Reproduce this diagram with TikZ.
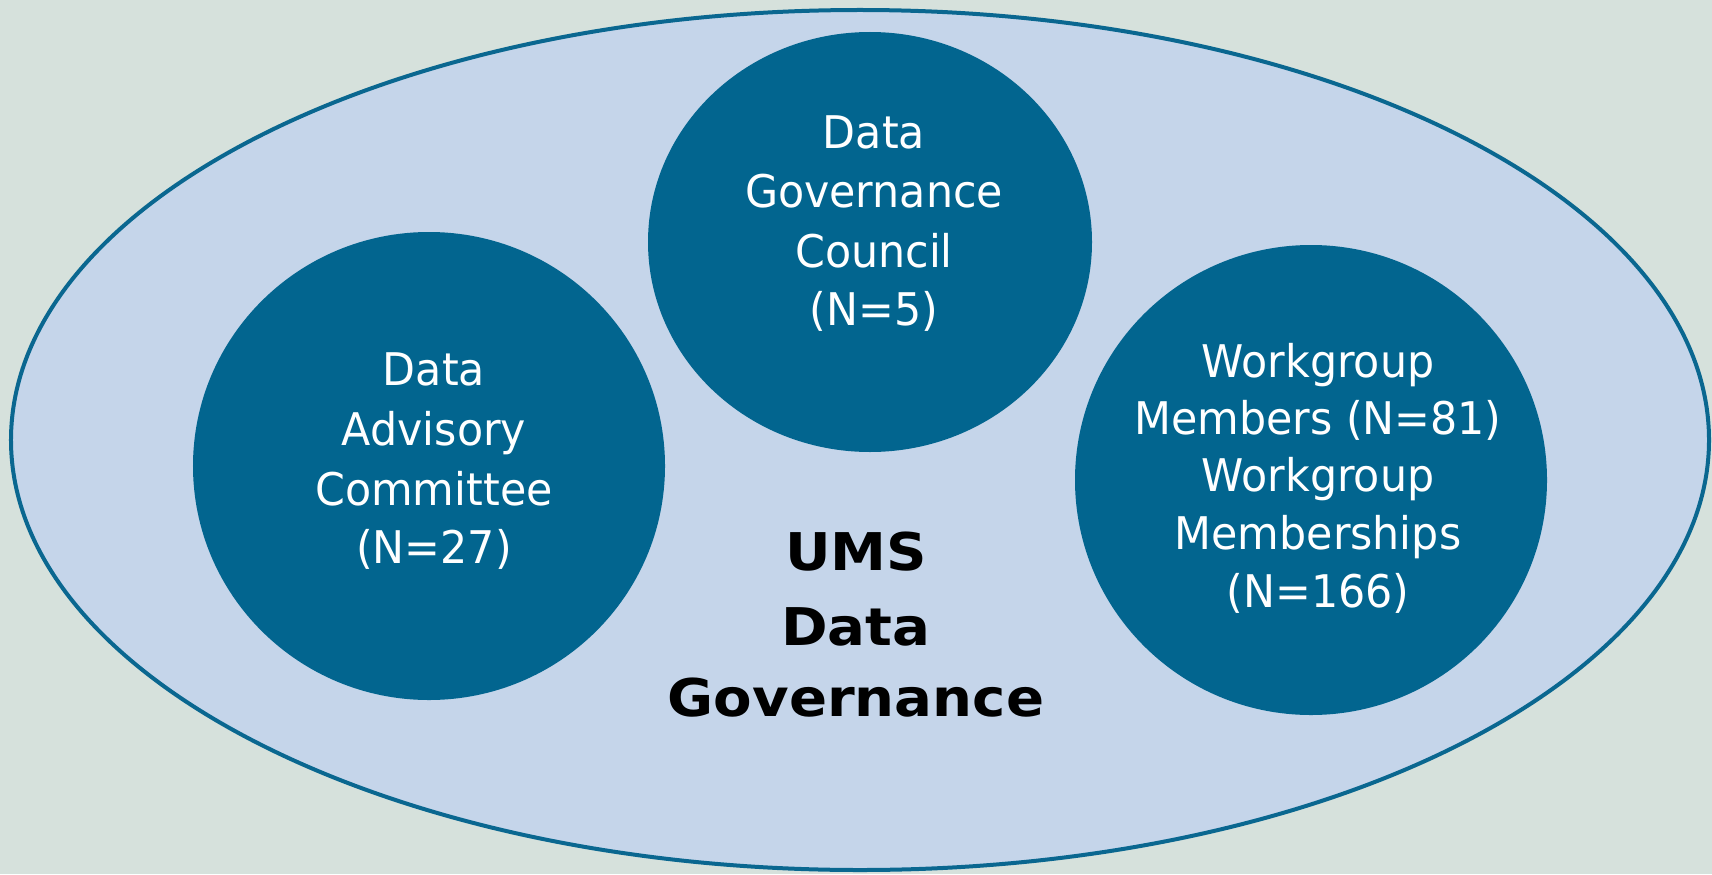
\documentclass[tikz,border=0pt]{standalone}
\usepackage{fontspec}
\usetikzlibrary{shapes.geometric}
\newfontfamily\lblfont[FakeStretch=0.95]{DejaVu Sans}
\newfontfamily\ctrfont[FakeStretch=1.08]{DejaVu Sans}
\definecolor{bgc}{RGB}{214,225,220}
\definecolor{lightc}{RGB}{197,213,234}
\definecolor{circc}{RGB}{2,101,143}
\definecolor{edgec}{RGB}{10,103,144}
\tikzset{
  outerov/.style={ellipse, fill=lightc, draw=edgec, line width=4bp, inner sep=0pt,
    minimum width=1698bp, minimum height=860bp},
  groupov/.style={ellipse, fill=circc, inner sep=0pt},
  wlbl/.style={anchor=base, inner sep=0pt, text=white, font=\lblfont\fontsize{45bp}{54bp}\selectfont},
  clbl/.style={anchor=base, inner sep=0pt, text=black, font=\ctrfont\bfseries\fontsize{52bp}{62bp}\selectfont}
}
\begin{document}
\begin{tikzpicture}[x=1bp,y=-1bp]
\fill[bgc] (0,0) rectangle (1712,874);
\useasboundingbox (0,0) rectangle (1712,874);
\node[outerov] (outer) at (860,440) {};
\node[groupov, minimum width=444bp, minimum height=420bp] (dgc) at (870,242) {};
\node[groupov, minimum width=472bp, minimum height=468bp] (dac) at (429,466) {};
\node[groupov, minimum width=472bp, minimum height=470bp] (wg) at (1311,480) {};
% top circle
\node[wlbl] (t1) at (874,148) {Data};
\node[wlbl] (t2) at (874,207) {Governance};
\node[wlbl] (t3) at (874,267) {Council};
\node[wlbl] (t4) at (874,325) {(N=5)};
% left circle
\node[wlbl] (l1) at (434,385) {Data};
\node[wlbl] (l2) at (434,445) {Advisory};
\node[wlbl] (l3) at (434,505) {Committee};
\node[wlbl] (l4) at (434,563) {(N=27)};
% right circle
\node[wlbl] (r1) at (1318,377) {Workgroup};
\node[wlbl] (r2) at (1318,434) {Members (N=81)};
\node[wlbl] (r3) at (1318,491) {Workgroup};
\node[wlbl] (r4) at (1318,549) {Memberships};
\node[wlbl] (r5) at (1318,607) {(N=166)};
% centre
\node[clbl] (c1) at (856,570) {UMS};
\node[clbl] (c2) at (856,645) {Data};
\node[clbl] (c3) at (856,716) {Governance};
\end{tikzpicture}
\end{document}
